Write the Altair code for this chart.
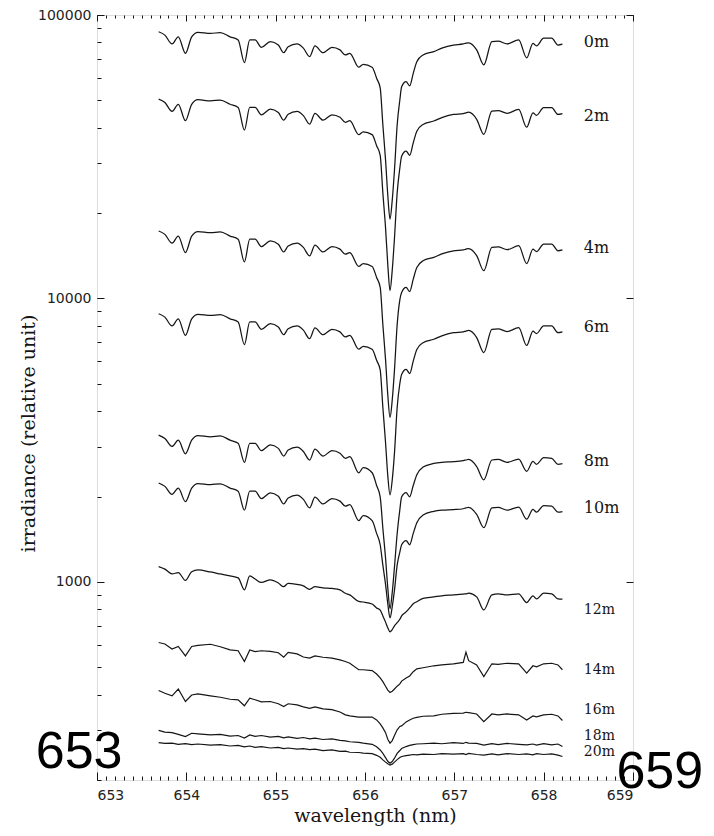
import altair as alt
import pandas as pd

# wavelength grid (nm) at which the curves were read
wavelength = [653.69, 653.76, 653.84, 653.91, 653.99, 654.06, 654.13, 654.27, 654.38, 654.49,
              654.58, 654.65, 654.71, 654.77, 654.84, 654.94, 655.03, 655.09, 655.14, 655.24,
              655.31, 655.38, 655.44, 655.53, 655.63, 655.72, 655.78, 655.83, 655.93, 655.98,
              656.08, 656.13, 656.17, 656.20, 656.23, 656.255, 656.28, 656.305, 656.33, 656.36,
              656.39, 656.41, 656.46, 656.50, 656.54, 656.58, 656.65, 656.77, 656.86, 656.99,
              657.10, 657.13, 657.16, 657.25, 657.33, 657.42, 657.49, 657.59, 657.72, 657.81,
              657.88, 657.92, 658.00, 658.09, 658.16, 658.21]

# log10 of irradiance (relative unit) for every depth
log_0m = [4.941, 4.929, 4.898, 4.923, 4.865, 4.923, 4.939, 4.935, 4.938, 4.923,
          4.912, 4.832, 4.912, 4.912, 4.886, 4.906, 4.894, 4.867, 4.888, 4.898,
          4.883, 4.853, 4.891, 4.867, 4.886, 4.877, 4.859, 4.865, 4.816, 4.826,
          4.816, 4.777, 4.743, 4.612, 4.489, 4.365, 4.280, 4.347, 4.453, 4.612,
          4.700, 4.747, 4.765, 4.750, 4.794, 4.835, 4.859, 4.871, 4.883, 4.894,
          4.898, 4.901, 4.902, 4.877, 4.824, 4.906, 4.908, 4.898, 4.912, 4.849,
          4.900, 4.891, 4.918, 4.918, 4.894, 4.897]
log_2m = [4.703, 4.691, 4.660, 4.685, 4.627, 4.685, 4.701, 4.697, 4.700, 4.685,
          4.674, 4.594, 4.674, 4.674, 4.648, 4.668, 4.656, 4.629, 4.650, 4.660,
          4.645, 4.615, 4.653, 4.629, 4.648, 4.639, 4.621, 4.627, 4.578, 4.588,
          4.578, 4.539, 4.505, 4.372, 4.249, 4.120, 4.028, 4.100, 4.213, 4.372,
          4.460, 4.502, 4.520, 4.505, 4.549, 4.590, 4.614, 4.626, 4.638, 4.649,
          4.652, 4.655, 4.657, 4.632, 4.579, 4.661, 4.663, 4.653, 4.667, 4.604,
          4.655, 4.646, 4.673, 4.673, 4.649, 4.652]
log_4m = [4.238, 4.226, 4.195, 4.220, 4.162, 4.220, 4.236, 4.232, 4.235, 4.220,
          4.209, 4.129, 4.209, 4.209, 4.183, 4.203, 4.191, 4.164, 4.185, 4.195,
          4.180, 4.150, 4.188, 4.164, 4.183, 4.174, 4.156, 4.162, 4.113, 4.123,
          4.113, 4.074, 4.040, 3.907, 3.784, 3.660, 3.580, 3.642, 3.748, 3.907,
          3.995, 4.021, 4.039, 4.024, 4.068, 4.109, 4.133, 4.145, 4.157, 4.168,
          4.171, 4.174, 4.176, 4.151, 4.098, 4.180, 4.182, 4.172, 4.186, 4.123,
          4.174, 4.165, 4.192, 4.192, 4.168, 4.171]
log_6m = [3.946, 3.934, 3.903, 3.928, 3.870, 3.928, 3.944, 3.940, 3.943, 3.928,
          3.917, 3.837, 3.917, 3.917, 3.891, 3.911, 3.899, 3.872, 3.893, 3.903,
          3.888, 3.858, 3.896, 3.872, 3.891, 3.882, 3.864, 3.870, 3.821, 3.831,
          3.821, 3.782, 3.748, 3.615, 3.492, 3.375, 3.307, 3.360, 3.455, 3.615,
          3.700, 3.732, 3.750, 3.735, 3.779, 3.820, 3.844, 3.856, 3.868, 3.879,
          3.882, 3.885, 3.887, 3.862, 3.809, 3.891, 3.893, 3.883, 3.897, 3.834,
          3.885, 3.876, 3.903, 3.903, 3.879, 3.882]
log_8m = [3.518, 3.506, 3.478, 3.500, 3.452, 3.500, 3.516, 3.512, 3.515, 3.500,
          3.489, 3.422, 3.489, 3.489, 3.463, 3.483, 3.471, 3.444, 3.465, 3.475,
          3.460, 3.430, 3.468, 3.444, 3.463, 3.454, 3.436, 3.442, 3.385, 3.403,
          3.385, 3.340, 3.300, 3.189, 3.084, 2.979, 2.905, 2.963, 3.053, 3.170,
          3.255, 3.300, 3.315, 3.300, 3.340, 3.378, 3.405, 3.418, 3.422, 3.424,
          3.428, 3.430, 3.432, 3.407, 3.360, 3.430, 3.432, 3.422, 3.433, 3.390,
          3.425, 3.415, 3.438, 3.436, 3.415, 3.417]
log_10m = [3.349, 3.337, 3.309, 3.331, 3.283, 3.331, 3.347, 3.343, 3.346, 3.331,
           3.320, 3.253, 3.320, 3.320, 3.294, 3.314, 3.302, 3.275, 3.296, 3.306,
           3.291, 3.261, 3.299, 3.275, 3.294, 3.285, 3.267, 3.273, 3.216, 3.234,
           3.216, 3.171, 3.131, 3.059, 2.991, 2.923, 2.873, 2.913, 2.971, 3.059,
           3.105, 3.131, 3.146, 3.131, 3.171, 3.209, 3.236, 3.249, 3.253, 3.255,
           3.258, 3.261, 3.263, 3.238, 3.191, 3.261, 3.263, 3.253, 3.264, 3.221,
           3.256, 3.246, 3.269, 3.267, 3.246, 3.248]
log_12m = [3.054, 3.045, 3.028, 3.033, 3.005, 3.036, 3.042, 3.035, 3.028, 3.021,
           3.014, 2.972, 3.021, 3.010, 2.998, 3.007, 2.996, 2.983, 2.995, 2.991,
           2.986, 2.974, 2.983, 2.979, 2.977, 2.972, 2.960, 2.954, 2.931, 2.929,
           2.922, 2.908, 2.900, 2.880, 2.858, 2.838, 2.824, 2.832, 2.845, 2.856,
           2.868, 2.880, 2.894, 2.908, 2.923, 2.930, 2.942, 2.947, 2.951, 2.954,
           2.957, 2.958, 2.960, 2.947, 2.901, 2.954, 2.958, 2.954, 2.958, 2.927,
           2.951, 2.940, 2.960, 2.958, 2.940, 2.939]
log_14m = [2.786, 2.781, 2.763, 2.772, 2.739, 2.772, 2.776, 2.780, 2.771, 2.760,
           2.757, 2.719, 2.760, 2.754, 2.757, 2.755, 2.750, 2.734, 2.751, 2.746,
           2.735, 2.731, 2.739, 2.734, 2.731, 2.725, 2.719, 2.713, 2.690, 2.690,
           2.687, 2.675, 2.661, 2.648, 2.632, 2.618, 2.610, 2.614, 2.622, 2.632,
           2.640, 2.650, 2.661, 2.668, 2.683, 2.693, 2.697, 2.704, 2.707, 2.711,
           2.716, 2.752, 2.722, 2.707, 2.666, 2.711, 2.709, 2.713, 2.711, 2.678,
           2.704, 2.700, 2.711, 2.713, 2.707, 2.690]
log_16m = [2.617, 2.607, 2.598, 2.622, 2.578, 2.601, 2.605, 2.598, 2.593, 2.586,
           2.584, 2.563, 2.590, 2.584, 2.577, 2.578, 2.570, 2.560, 2.570, 2.566,
           2.559, 2.554, 2.559, 2.552, 2.549, 2.541, 2.531, 2.527, 2.523, 2.523,
           2.523, 2.513, 2.499, 2.485, 2.468, 2.445, 2.431, 2.440, 2.458, 2.478,
           2.490, 2.492, 2.506, 2.513, 2.519, 2.522, 2.526, 2.527, 2.533, 2.536,
           2.537, 2.540, 2.539, 2.534, 2.507, 2.534, 2.531, 2.534, 2.531, 2.513,
           2.527, 2.524, 2.531, 2.533, 2.527, 2.511]
log_18m = [2.476, 2.470, 2.468, 2.462, 2.454, 2.466, 2.464, 2.460, 2.462, 2.456,
           2.458, 2.449, 2.460, 2.455, 2.458, 2.452, 2.455, 2.450, 2.453, 2.448,
           2.451, 2.446, 2.449, 2.444, 2.446, 2.441, 2.439, 2.436, 2.434, 2.431,
           2.427, 2.418, 2.407, 2.395, 2.380, 2.367, 2.360, 2.366, 2.378, 2.395,
           2.405, 2.412, 2.419, 2.423, 2.426, 2.428, 2.429, 2.431, 2.429, 2.433,
           2.430, 2.434, 2.431, 2.430, 2.424, 2.429, 2.426, 2.430, 2.427, 2.425,
           2.428, 2.424, 2.429, 2.425, 2.428, 2.419]
log_20m = [2.433, 2.430, 2.431, 2.427, 2.429, 2.426, 2.428, 2.424, 2.426, 2.421,
           2.423, 2.418, 2.421, 2.416, 2.419, 2.414, 2.416, 2.412, 2.414, 2.410,
           2.412, 2.408, 2.410, 2.405, 2.407, 2.402, 2.403, 2.399, 2.398, 2.396,
           2.394, 2.388, 2.381, 2.372, 2.364, 2.358, 2.354, 2.357, 2.364, 2.373,
           2.380, 2.384, 2.387, 2.389, 2.391, 2.390, 2.392, 2.391, 2.394, 2.392,
           2.394, 2.391, 2.395, 2.391, 2.389, 2.393, 2.390, 2.394, 2.391, 2.393,
           2.390, 2.394, 2.391, 2.393, 2.389, 2.384]

depths = ["0m", "2m", "4m", "6m", "8m", "10m", "12m", "14m", "16m", "18m", "20m"]
series = [log_0m, log_2m, log_4m, log_6m, log_8m, log_10m, log_12m, log_14m, log_16m, log_18m, log_20m]
smooth_depths = ["0m", "2m", "4m", "6m", "8m", "10m", "12m"]

# depth labels at the right end of the curves (wavelength, log10 irradiance)
label_wl = [658.45] * 11
label_log = [4.905, 4.644, 4.178, 3.899, 3.427, 3.261, 2.901, 2.690, 2.548, 2.457, 2.400]

# large overlay numbers
big_text = ["653", "659"]
big_wl = [652.8, 659.3]
big_irr = [251, 214]

x_major = [653, 654, 655, 656, 657, 658, 659]
y_major = [1000, 10000, 100000]

rows = []
for d, vals in zip(depths, series):
    for w, l in zip(wavelength, vals):
        rows.append({"depth": d, "wl": w, "irr": 10 ** l})
df = pd.DataFrame(rows)
df_smooth = df[df["depth"].isin(smooth_depths)]
df_noisy = df[~df["depth"].isin(smooth_depths)]

lab = pd.DataFrame({"label": depths, "wl": label_wl, "irr": [10 ** v for v in label_log]})
lab_big = lab.iloc[:6]
lab_small = lab.iloc[6:]
big = pd.DataFrame({"t": big_text, "wl": big_wl, "irr": big_irr})

xs = alt.Scale(domain=[653, 659], nice=False, zero=False)
ys = alt.Scale(type="log", domain=[200, 100000], nice=False)
INK = "#151515"

main_x = alt.Axis(title="wavelength (nm)", values=x_major, format="d", domain=False, ticks=False,
                  grid=False, labelFont="DejaVu Sans", labelFontSize=14, labelColor="#222",
                  labelPadding=8, titleFont="DejaVu Serif", titleFontSize=19, titleFontWeight="normal",
                  titleColor=INK, titleX=278, titleY=35, titleBaseline="middle", titleAlign="center")
main_y = alt.Axis(title="irradiance (relative unit)", values=y_major, format="d", domain=False,
                  ticks=False, grid=False, labelFont="DejaVu Sans", labelFontSize=14, labelColor="#222",
                  labelPadding=6, titleFont="DejaVu Serif", titleFontSize=19, titleFontWeight="normal",
                  titleColor=INK, titleX=-69, titleY=418, titleBaseline="middle", titleAlign="center",
                  titleAngle=270)

lines = alt.Chart(df_smooth).mark_line(color=INK, strokeWidth=1.25, interpolate="monotone").encode(
    x=alt.X("wl:Q", scale=xs, axis=main_x),
    y=alt.Y("irr:Q", scale=ys, axis=main_y),
    detail="depth:N",
)
lines_noisy = alt.Chart(df_noisy).mark_line(color=INK, strokeWidth=1.2).encode(
    x=alt.X("wl:Q", scale=xs, axis=None),
    y=alt.Y("irr:Q", scale=ys, axis=None),
    detail="depth:N",
)


def tick_axis(orient, size, **kw):
    return alt.Axis(orient=orient, offset=-size, tickSize=size, labels=False, domain=False,
                    grid=False, ticks=True, tickColor=INK, tickWidth=1, title=None, **kw)


def ghost(xaxis, yaxis):
    return alt.Chart(df).mark_line(opacity=0).encode(
        x=alt.X("wl:Q", scale=xs, axis=xaxis),
        y=alt.Y("irr:Q", scale=ys, axis=yaxis),
        detail="depth:N",
    )


g1 = ghost(tick_axis("bottom", 4, tickCount=60), tick_axis("left", 4, tickCount=40))
g2 = ghost(tick_axis("bottom", 8, values=x_major), tick_axis("left", 7, values=y_major))
g3 = ghost(tick_axis("top", 3, tickCount=60), tick_axis("right", 7, values=y_major))
g4 = ghost(tick_axis("top", 6, values=x_major), None)

labels_big = alt.Chart(lab_big).mark_text(align="left", baseline="middle", font="DejaVu Serif",
                                          fontSize=16, color=INK).encode(
    x=alt.X("wl:Q", scale=xs, axis=None), y=alt.Y("irr:Q", scale=ys, axis=None), text="label:N")
labels_small = alt.Chart(lab_small).mark_text(align="left", baseline="middle", font="DejaVu Serif",
                                              fontSize=14, color=INK).encode(
    x=alt.X("wl:Q", scale=xs, axis=None), y=alt.Y("irr:Q", scale=ys, axis=None), text="label:N")
big_nums = alt.Chart(big).mark_text(align="center", baseline="middle", font="Liberation Sans",
                                    fontSize=52, color="#000").encode(
    x=alt.X("wl:Q", scale=xs, axis=None), y=alt.Y("irr:Q", scale=ys, axis=None), text="t:N")

chart = alt.layer(lines, lines_noisy, g1, g2, g3, g4, labels_big, labels_small, big_nums).resolve_axis(
    x="independent", y="independent"
).properties(
    width=536, height=765,
    padding={"left": 89, "top": 7, "right": 73, "bottom": 48},
    autosize=alt.AutoSizeParams(type="none"),
).configure_view(stroke=INK, strokeWidth=1).configure(background="white")

chart.save("out.html", embed_options={"renderer": "svg", "actions": False})
